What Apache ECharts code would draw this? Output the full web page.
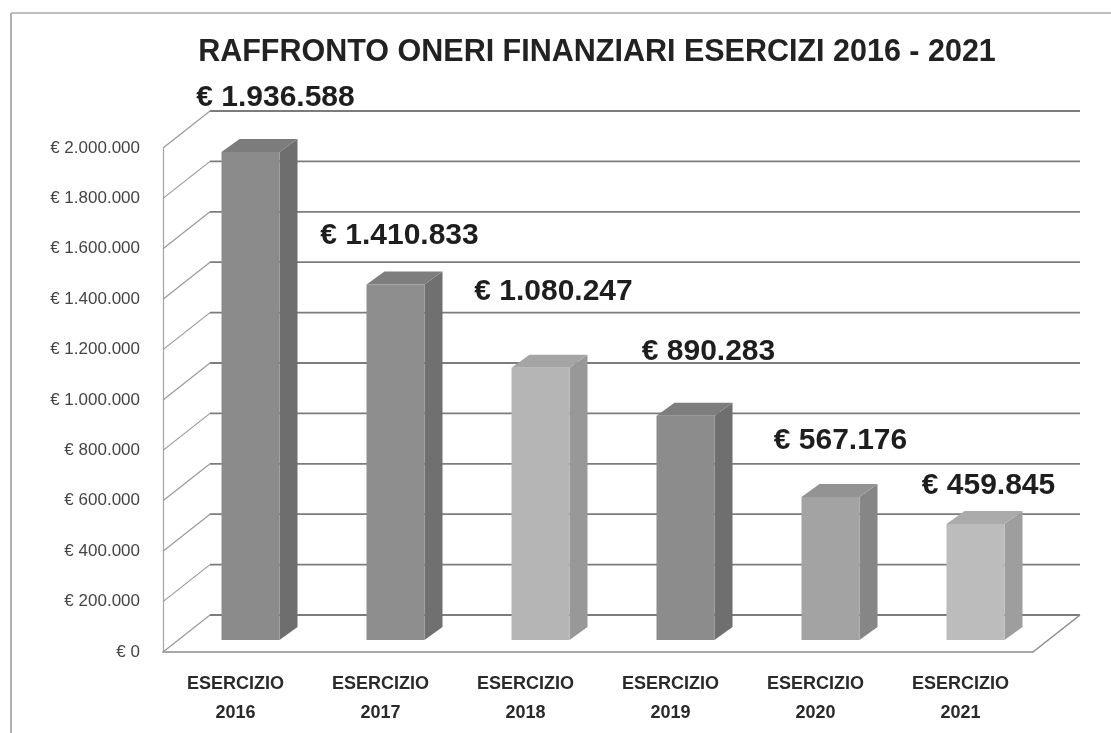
<!DOCTYPE html>
<html>
<head>
<meta charset="utf-8">
<script src="https://cdn.jsdelivr.net/npm/echarts@6/dist/echarts.min.js"></script>
<style>
  html, body { margin: 0; padding: 0; background: #fff; }
  #main { width: 1111px; height: 733px; }
</style>
</head>
<body>
<div id="main"></div>
<script>
// dati
var categories = ['2016', '2017', '2018', '2019', '2020', '2021'];
var oneri = [1936588, 1410833, 1080247, 890283, 567176, 459845];
var yTicks = [0, 200000, 400000, 600000, 800000, 1000000, 1200000, 1400000, 1600000, 1800000, 2000000];

// stile delle barre (colore faccia frontale, laterale, superiore)
var frontColors = ['#8b8b8b', '#8e8e8e', '#b5b5b5', '#8c8c8c', '#a3a3a3', '#bcbcbc'];
var sideColors = ['#6e6e6e', '#707070', '#989898', '#6f6f6f', '#868686', '#9e9e9e'];
var topColors = ['#7c7c7c', '#7e7e7e', '#a5a5a5', '#7d7d7d', '#939393', '#ababab'];
// spostamento delle etichette rispetto alla cima della barra
var labelShift = [[25, -54], [4, -49], [13, -76], [23, -64], [10, -56], [13, -38]];

// prospettiva
var DX = 47, DY = -37;      // profondita della parete di fondo
var BX = 15, BY = -12;      // posizione della barra nella profondita
var SX = 18, SY = -13;      // spessore della barra

function fmt(v) {
  return String(v).replace(/\B(?=(\d{3})+(?!\d))/g, '.');
}

var myChart = echarts.init(document.getElementById('main'));

var option = {
  animation: false,
  backgroundColor: '#fff',
  title: {
    text: 'RAFFRONTO ONERI FINANZIARI ESERCIZI 2016 - 2021',
    left: 592,
    top: 32,
    textAlign: 'center',
    textStyle: {
      fontFamily: 'Liberation Sans',
      fontWeight: 'bold',
      fontSize: 30.5,
      color: '#222'
    }
  },
  graphic: [
    { type: 'line', shape: { x1: 11, y1: 13, x2: 11, y2: 733 }, style: { stroke: '#999', lineWidth: 1.5 } },
    { type: 'line', shape: { x1: 11, y1: 13, x2: 1111, y2: 13 }, style: { stroke: '#aaa', lineWidth: 1.5 } }
  ],
  grid: { left: 163, right: 78, top: 148, bottom: 81 },
  xAxis: {
    type: 'category',
    data: categories,
    axisLine: { show: true, lineStyle: { color: '#8a8a8a', width: 1.5 } },
    axisTick: { show: false },
    axisLabel: {
      margin: 18,
      interval: 0,
      formatter: function (v) { return 'ESERCIZIO\n' + v; },
      fontFamily: 'Liberation Sans',
      fontWeight: 'bold',
      fontSize: 18,
      lineHeight: 29,
      color: '#2a2a2a'
    }
  },
  yAxis: {
    type: 'value',
    min: 0,
    max: 2000000,
    interval: 200000,
    axisLine: { show: true, lineStyle: { color: '#a5a5a5', width: 1.2 } },
    axisTick: { show: false },
    splitLine: { show: false },
    axisLabel: {
      margin: 23,
      formatter: function (v) { return '€ ' + fmt(v); },
      fontFamily: 'Liberation Sans',
      fontSize: 17,
      color: '#444'
    }
  },
  series: [
    {
      // pareti: linee diagonali e griglia di fondo
      type: 'custom',
      z: 1,
      silent: true,
      data: yTicks.map(function (v) { return [0, v]; }),
      renderItem: function (params, api) {
        var p = api.coord([0, api.value(1)]);
        var band = api.size([1, 0])[0];
        var x0 = p[0] - band / 2;
        var x1 = x0 + band * categories.length;
        var y = p[1];
        var children = [
          { type: 'line', shape: { x1: x0, y1: y, x2: x0 + DX, y2: y + DY }, style: { stroke: '#9a9a9a', lineWidth: 1.2 } },
          { type: 'line', shape: { x1: x0 + DX, y1: y + DY, x2: x1 + DX, y2: y + DY }, style: { stroke: '#7c7c7c', lineWidth: 1.8 } }
        ];
        if (api.value(1) === 0) {
          children.push({ type: 'line', shape: { x1: x1, y1: y, x2: x1 + DX, y2: y + DY }, style: { stroke: '#8a8a8a', lineWidth: 1.5 } });
        }
        return { type: 'group', children: children };
      }
    },
    {
      // barre 3D
      type: 'custom',
      z: 3,
      data: oneri.map(function (v, i) { return [i, v]; }),
      renderItem: function (params, api) {
        var i = params.dataIndex;
        var c = api.coord([api.value(0), api.value(1)]);
        var base = api.coord([api.value(0), 0]);
        var band = api.size([1, 0])[0];
        var bw = band * 0.4;
        var xl = c[0] + BX - bw / 2;
        var xr = c[0] + BX + bw / 2;
        var yt = c[1] + BY;
        var yb = base[1] + BY;
        return {
          type: 'group',
          children: [
            { type: 'polygon', shape: { points: [[xr, yt], [xr + SX, yt + SY], [xr + SX, yb + SY], [xr, yb]] }, style: { fill: sideColors[i] } },
            { type: 'polygon', shape: { points: [[xl, yt], [xl + SX, yt + SY], [xr + SX, yt + SY], [xr, yt]] }, style: { fill: topColors[i] } },
            { type: 'rect', shape: { x: xl, y: yt, width: bw, height: yb - yt }, style: { fill: frontColors[i] } },
            {
              type: 'text',
              x: c[0] + BX + labelShift[i][0],
              y: yt + labelShift[i][1],
              style: {
                text: '€ ' + fmt(api.value(1)),
                fontFamily: 'Liberation Sans',
                fontWeight: 'bold',
                fontSize: 30,
                fill: '#1e1e1e',
                align: 'center',
                verticalAlign: 'middle'
              }
            }
          ]
        };
      }
    }
  ]
};

myChart.setOption(option);
</script>
</body>
</html>
